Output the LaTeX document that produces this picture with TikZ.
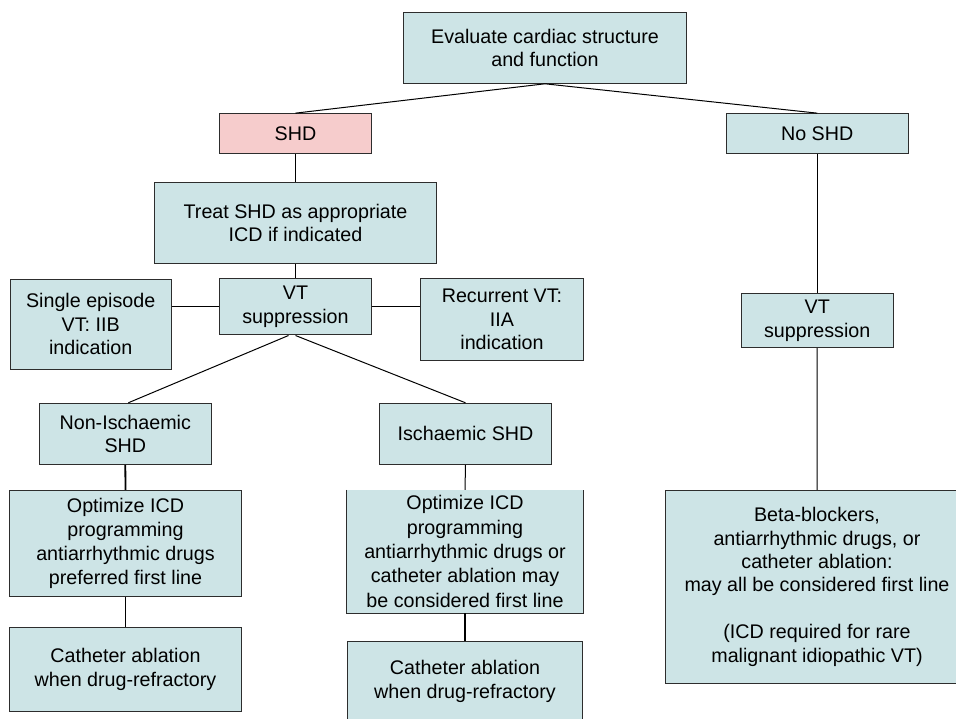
\documentclass[tikz,border=0pt]{standalone}
\usepackage{fontspec}
\setmainfont{Liberation Sans}
\definecolor{boxfill}{RGB}{205,228,230}
\definecolor{shdfill}{RGB}{246,204,204}
\definecolor{boxline}{RGB}{45,45,45}
\begin{document}
\begin{tikzpicture}[x=1pt,y=-1pt,
  box/.style={draw=boxline, line width=1pt, fill=boxfill, inner sep=0pt, align=center,
    font=\fontsize{19.7}{23.6}\selectfont},
  openbox/.style={box, draw=none},
  link/.style={line width=1pt, black},
  heavylink/.style={line width=1.8pt, black}]
\useasboundingbox (0,0) rectangle (956,719);
\clip (0,0) rectangle (956,719);
\fill[white] (0,0) rectangle (956,719);

\node[box, minimum width=283pt, minimum height=70.6pt] (eval) at (545,48) {Evaluate cardiac structure\\and function};
\node[box, fill=shdfill, minimum width=151.6pt, minimum height=40.3pt] (shd) at (295.5,133.8) {SHD};
\node[box, minimum width=181.7pt, minimum height=40.3pt] (noshd) at (817.2,133.8) {No SHD};
\node[box, minimum width=282.4pt, minimum height=80.6pt] (treat) at (295.5,223) {Treat SHD as appropriate\\ICD if indicated};
\node[box, minimum width=151.6pt, minimum height=56pt] (vt) at (295.5,307) {VT\\suppression};
\node[box, minimum width=161.3pt, minimum height=90.3pt] (single) at (90.7,324.2) {Single episode\\VT: IIB\\indication};
\node[box, minimum width=162.6pt, minimum height=81pt] (recur) at (502,319.5) {Recurrent VT:\\IIA\\indication};
\node[box, minimum width=151.7pt, minimum height=54.4pt] (rvt) at (817.2,320.5) {VT\\suppression};
\node[box, minimum width=172pt, minimum height=61pt] (noni) at (125.3,433.8) {Non-Ischaemic\\SHD};
\node[box, minimum width=171.6pt, minimum height=61pt] (isch) at (465.5,433.8) {Ischaemic SHD};
\node[box, minimum width=232.4pt, minimum height=106.4pt, font=\fontsize{19.7}{24.2}\selectfont] (optL) at (125.5,543.5) {Optimize ICD\\programming\\antiarrhythmic drugs\\preferred first line};
\node[box, minimum width=232.4pt, minimum height=84pt, font=\fontsize{19.7}{24.5}\selectfont] (catL) at (125.5,669.3) {Catheter ablation\\when drug-refractory};
\node[openbox, minimum width=235.4pt, minimum height=122.4pt, font=\fontsize{19.7}{24.4}\selectfont] (optM) at (465,551.5) {Optimize ICD\\programming\\antiarrhythmic drugs or\\catheter ablation may\\be considered first line};
\draw[draw=boxline, line width=1pt] (optM.north west) -- (optM.south west) -- (optM.south east) -- (optM.north east);
\node[box, minimum width=235.4pt, minimum height=79.3pt, font=\fontsize{19.7}{24}\selectfont] (catM) at (465,681.3) {Catheter ablation\\when drug-refractory};
\node[box, minimum width=302.6pt, minimum height=193pt, font=\fontsize{19.7}{23.4}\selectfont] (big) at (817,586.8) {Beta-blockers,\\antiarrhythmic drugs, or\\catheter ablation:\\may all be considered first line\\[23.4pt](ICD required for rare\\malignant idiopathic VT)};

\draw[link] (eval.south) -- (shd.north);
\draw[link] (eval.south) -- (noshd.north);
\draw[link] (shd.south) -- (treat.north);
\draw[link] (treat.south) -- (vt.north);
\draw[link] (vt.west) -- (vt.west -| single.east);
\draw[link] (vt.east) -- (vt.east -| recur.west);
\draw[link] ([xshift=-7pt]vt.south) -- ([xshift=3pt]noni.north);
\draw[link] (vt.south) -- (isch.north);
\draw[heavylink] (noni.south) -- (optL.north);
\draw[heavylink] (optL.south) -- (catL.north);
\draw[link] (isch.south) -- (optM.north);
\draw[heavylink] (optM.south) -- (catM.north);
\draw[link] (noshd.south) -- (rvt.north);
\draw[link] (rvt.south) -- (big.north);
\end{tikzpicture}
\end{document}
